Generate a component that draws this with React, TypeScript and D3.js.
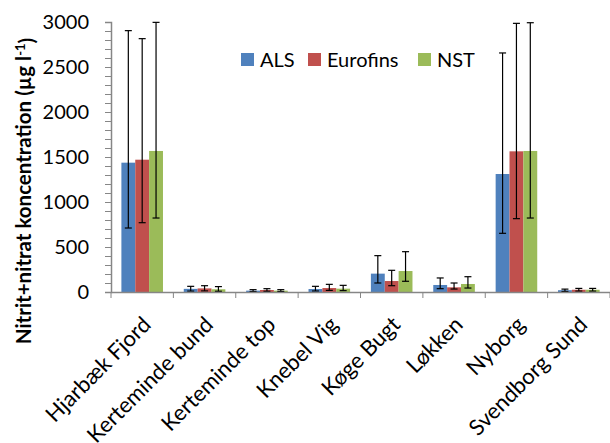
import { useEffect, useRef } from "react";
import * as d3 from "d3";

const sites = ["Hjarbæk Fjord", "Kerteminde bund", "Kerteminde top", "Knebel Vig", "Køge Bugt", "Løkken", "Nyborg", "Svendborg Sund"];
const labs = ["ALS", "Eurofins", "NST"];
const colors = ["#4F81BD", "#C0504D", "#9BBB59"];

// mean values per lab
const alsVals = [1437, 35, 15, 33, 204, 78, 1311, 20];
const eurofinsVals = [1470, 40, 22, 44, 122, 52, 1563, 25];
const nstVals = [1567, 30, 15, 37, 233, 89, 1567, 25];
// error bar low / high
const alsLow = [711, 10, 4, 11, 100, 37, 652, 6];
const alsHigh = [2904, 63, 26, 63, 404, 156, 2656, 32];
const eurofinsLow = [770, 12, 8, 18, 70, 33, 815, 10];
const eurofinsHigh = [2815, 70, 37, 85, 241, 100, 2985, 40];
const nstLow = [822, 8, 5, 15, 119, 44, 822, 10];
const nstHigh = [2996, 60, 26, 74, 448, 170, 2992, 40];

const yTicks = [0, 500, 1000, 1500, 2000, 2500, 3000];

export default function App() {
  const svgRef = useRef<SVGSVGElement | null>(null);

  useEffect(() => {
    const W = 610, H = 443;
    const margin = { top: 22, right: 0, bottom: 151, left: 111 };
    const font = "Lato, 'Open Sans', sans-serif";

    const svg = d3.select(svgRef.current).attr("width", W).attr("height", H);
    svg.selectAll("*").remove();

    const x = d3.scaleBand().domain(sites).range([margin.left, W - margin.right]);
    const inner = d3.scaleBand().domain(labs).range([0, x.bandwidth() / 1.5]);
    const y = d3.scaleLinear().domain([0, 3000]).range([H - margin.bottom, margin.top]);

    const vals = [alsVals, eurofinsVals, nstVals];
    const lows = [alsLow, eurofinsLow, nstLow];
    const highs = [alsHigh, eurofinsHigh, nstHigh];

    const rows = sites.flatMap((s, i) =>
      labs.map((l, j) => ({ site: s, lab: l, j, v: vals[j][i], lo: lows[j][i], hi: highs[j][i] }))
    );

    const off = (x.bandwidth() - x.bandwidth() / 1.5) / 2;
    const g = svg.append("g");

    g.selectAll("rect.bar")
      .data(rows)
      .join("rect")
      .attr("class", "bar")
      .attr("x", d => (x(d.site) as number) + off + (inner(d.lab) as number))
      .attr("width", inner.bandwidth())
      .attr("y", d => y(d.v))
      .attr("height", d => y(0) - y(d.v))
      .attr("fill", d => colors[d.j]);

    // error bars
    const eb = g.selectAll("g.err").data(rows).join("g").attr("class", "err")
      .attr("transform", d => `translate(${(x(d.site) as number) + off + (inner(d.lab) as number) + inner.bandwidth() / 2},0)`);
    eb.append("line").attr("y1", d => y(d.lo)).attr("y2", d => y(d.hi)).attr("stroke", "#000").attr("stroke-width", 1.2);
    eb.append("line").attr("x1", -3.5).attr("x2", 3.5).attr("y1", d => y(d.lo)).attr("y2", d => y(d.lo)).attr("stroke", "#000").attr("stroke-width", 1.2);
    eb.append("line").attr("x1", -3.5).attr("x2", 3.5).attr("y1", d => y(d.hi)).attr("y2", d => y(d.hi)).attr("stroke", "#000").attr("stroke-width", 1.2);

    // y axis
    const yAxis = svg.append("g").attr("transform", `translate(${margin.left},0)`)
      .call(d3.axisLeft(y).tickValues(d3.range(0, 3001, 100)).tickSize(6).tickFormat(() => ""));
    yAxis.select(".domain").attr("stroke", "#868686").attr("stroke-width", 1.5);
    yAxis.selectAll(".tick line").attr("stroke", "#868686");
    svg.append("g").selectAll("text").data(yTicks).join("text")
      .attr("x", 89).attr("y", d => y(d)).attr("dy", "0.36em")
      .attr("text-anchor", "end").style("font-family", font).style("font-size", "20px")
      .text(d => d);

    // x axis
    const xAxis = svg.append("g").attr("transform", `translate(0,${y(0)})`)
      .call(d3.axisBottom(x).tickSize(0).tickFormat(() => ""));
    xAxis.select(".domain").attr("stroke", "#868686").attr("stroke-width", 1.5);
    xAxis.selectAll(".tick").remove();
    const bounds = sites.map(s => x(s) as number).concat([W - margin.right]);
    xAxis.selectAll("line.sep").data(bounds).join("line").attr("class", "sep")
      .attr("x1", d => d).attr("x2", d => d).attr("y1", 0).attr("y2", 6).attr("stroke", "#868686");

    svg.append("g").selectAll("text").data(sites).join("text")
      .attr("transform", d => `translate(${(x(d) as number) + x.bandwidth() / 2 + 10},${y(0) + 34}) rotate(-45)`)
      .attr("text-anchor", "end").style("font-family", font).style("font-size", "22px")
      .text(d => d);

    // y label
    const yl = svg.append("text")
      .attr("transform", `translate(31,191) rotate(-90)`)
      .attr("text-anchor", "middle").style("font-family", font).style("font-size", "20.5px").style("font-weight", "bold");
    yl.append("tspan").text("Nitrit+nitrat koncentration (µg l");
    yl.append("tspan").attr("dy", "-0.45em").style("font-size", "13px").text("-1");
    yl.append("tspan").attr("dy", "0.45em").text(")");

    // legend
    const legX = [241, 308, 418];
    const leg = svg.append("g").selectAll("g").data(labs).join("g")
      .attr("transform", (d, i) => `translate(${legX[i]},53)`);
    leg.append("rect").attr("width", 13).attr("height", 13).attr("fill", (d, i) => colors[i]);
    leg.append("text").attr("x", 19).attr("y", 14).style("font-family", font).style("font-size", "20px").text(d => d);
  }, []);

  return <svg ref={svgRef} style={{ position: "absolute", left: 0, top: 0 }}></svg>;
}
